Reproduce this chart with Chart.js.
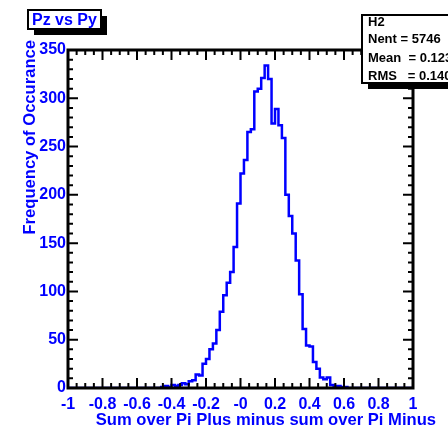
<!DOCTYPE html>
<html>
<head>
<meta charset="utf-8">
<title>Pz vs Py</title>
<script src="https://cdn.jsdelivr.net/npm/chart.js@4/dist/chart.umd.min.js"></script>
<style>
  html, body { margin: 0; padding: 0; background: #fff; }
  canvas { display: block; }
</style>
</head>
<body>
<canvas id="h2" width="448" height="428"></canvas>
<script>
/* --------- ヒストグラムのデータ --------- */
const histName = "H2";
const histTitle = "Pz vs Py";
const xAxisTitle = "Sum over Pi Plus minus sum over Pi Minus";
const yAxisTitle = "Frequency of Occurance";

// 100 ビン、-1 〜 1（ビン幅 0.02）
const binLow = -1;
const binWidth = 0.02;
const binCounts = [
  0, 0, 0, 0, 0, 0, 0, 0, 0, 0,
  0, 0, 0, 0, 0, 0, 0, 0, 0, 0,
  0, 0, 0, 0, 0, 0, 0, 1, 2, 1,
  3, 2, 3, 5, 4, 7, 8, 14, 13, 25,
  30, 40, 46, 60, 79, 96, 109, 120, 146, 191,
  222, 236, 265, 268, 307, 310, 321, 334, 320, 274,
  289, 272, 259, 200, 178, 160, 132, 97, 61, 44,
  43, 27, 20, 11, 9, 11, 3, 2, 2, 1,
  1, 0, 0, 0, 0, 0, 0, 0, 0, 0,
  0, 0, 0, 0, 0, 0, 0, 0, 0, 0,
];

// 軸の目盛り
const xTickValues = [-1, -0.8, -0.6, -0.4, -0.2, 0, 0.2, 0.4, 0.6, 0.8, 1];
const xTickLabels = ["-1", "-0.8", "-0.6", "-0.4", "-0.2", "-0", "0.2", "0.4", "0.6", "0.8", "1"];
const yTickValues = [0, 50, 100, 150, 200, 250, 300, 350];
const yTickLabels = ["0", "50", "100", "150", "200", "250", "300", "350"];

// 統計ボックスの中身
const statsLines = ["Nent = 5746", "Mean  = 0.1237", "RMS   = 0.1406"];

/* --------- 共通スタイル --------- */
const blue = "#0000ff";
const fontFamily = "'Liberation Sans', Arial, Helvetica, sans-serif";
const tickFont = { family: fontFamily, size: 16, weight: "bold" };

// ビンの左端を点にして階段線で描く（最後に右端を追加）
const stepPoints = binCounts.map((c, i) => ({ x: binLow + i * binWidth, y: c }));
stepPoints.push({ x: binLow + binCounts.length * binWidth, y: binCounts[binCounts.length - 1] });

/* --------- 枠と目盛り（内向き、四辺） --------- */
const frameTicks = {
  id: "frameTicks",
  afterDatasetsDraw(chart) {
    const { ctx, chartArea: a, scales: { x, y } } = chart;
    ctx.save();
    ctx.strokeStyle = "#000";
    ctx.lineWidth = 2;
    ctx.beginPath();
    // x 方向：0.05 ごとに小目盛り、0.2 ごとに大目盛り
    for (let k = 0; k <= 40; k++) {
      const px = x.getPixelForValue(-1 + k * 0.05);
      const len = k % 4 === 0 ? 10 : 5;
      ctx.moveTo(px, a.bottom); ctx.lineTo(px, a.bottom - len);
      ctx.moveTo(px, a.top); ctx.lineTo(px, a.top + len);
    }
    // y 方向：10 ごとに小目盛り、50 ごとに大目盛り
    for (let k = 0; k <= 35; k++) {
      const py = y.getPixelForValue(k * 10);
      const len = k % 5 === 0 ? 10 : 5;
      ctx.moveTo(a.left, py); ctx.lineTo(a.left + len, py);
      ctx.moveTo(a.right, py); ctx.lineTo(a.right - len, py);
    }
    ctx.stroke();
    ctx.lineWidth = 3;
    ctx.strokeRect(a.left, a.top, a.right - a.left, a.bottom - a.top);
    ctx.restore();
  },
};

/* --------- タイトル・軸タイトル・統計ボックス --------- */
function shadowBox(ctx, x, y, w, h) {
  ctx.fillStyle = "#000";
  ctx.fillRect(x + 6, y + 6, w, h);
  ctx.fillStyle = "#fff";
  ctx.fillRect(x, y, w, h);
  ctx.lineWidth = 2;
  ctx.strokeStyle = "#000";
  ctx.strokeRect(x, y, w, h);
}

const labelsAndBoxes = {
  id: "labelsAndBoxes",
  afterDraw(chart) {
    const ctx = chart.ctx;
    ctx.save();

    // 軸タイトル（右寄せ）
    ctx.fillStyle = blue;
    ctx.font = `bold 16.6px ${fontFamily}`;
    ctx.textAlign = "right";
    ctx.textBaseline = "alphabetic";
    ctx.fillText(xAxisTitle, 436, 425);

    ctx.save();
    ctx.translate(35, 40);
    ctx.rotate(-Math.PI / 2);
    ctx.fillText(yAxisTitle, 0, 0);
    ctx.restore();

    // 左上のタイトル
    shadowBox(ctx, 28, 10, 73, 19);
    ctx.fillStyle = blue;
    ctx.font = `bold 16px ${fontFamily}`;
    ctx.textAlign = "left";
    ctx.fillText(histTitle, 32, 25);

    // 右上の統計ボックス（キャンバス右端で切れる）
    shadowBox(ctx, 362, 15, 100, 68);
    ctx.fillStyle = "#000";
    ctx.font = `bold 13px ${fontFamily}`;
    ctx.fillText(histName, 368, 26);
    [43, 62, 80].forEach((by, i) => ctx.fillText(statsLines[i], 368, by));

    ctx.restore();
  },
};

/* --------- グラフ --------- */
new Chart(document.getElementById("h2"), {
  type: "line",
  data: {
    datasets: [
      {
        label: histName,
        data: stepPoints,
        borderColor: blue,
        borderWidth: 2.5,
        stepped: "before",
        pointRadius: 0,
        fill: false,
      },
    ],
  },
  options: {
    responsive: false,
    animation: false,
    layout: { padding: { top: 50, right: 35, bottom: 0, left: 0 } },
    plugins: { legend: { display: false }, tooltip: { enabled: false } },
    scales: {
      x: {
        type: "linear",
        min: -1,
        max: 1,
        grid: { display: false, drawTicks: false },
        border: { display: false },
        afterBuildTicks: (s) => { s.ticks = xTickValues.map((v) => ({ value: v })); },
        afterFit: (s) => { s.height = 40; },
        ticks: {
          autoSkip: false,
          maxRotation: 0,
          padding: 7,
          color: blue,
          font: tickFont,
          callback: (v, i) => xTickLabels[i],
        },
      },
      y: {
        type: "linear",
        min: 0,
        max: 350,
        grid: { display: false, drawTicks: false },
        border: { display: false },
        afterBuildTicks: (s) => { s.ticks = yTickValues.map((v) => ({ value: v })); },
        afterFit: (s) => { s.width = 68; },
        ticks: {
          autoSkip: false,
          padding: 2,
          color: blue,
          font: tickFont,
          callback: (v, i) => yTickLabels[i],
        },
      },
    },
  },
  plugins: [frameTicks, labelsAndBoxes],
});
</script>
</body>
</html>
